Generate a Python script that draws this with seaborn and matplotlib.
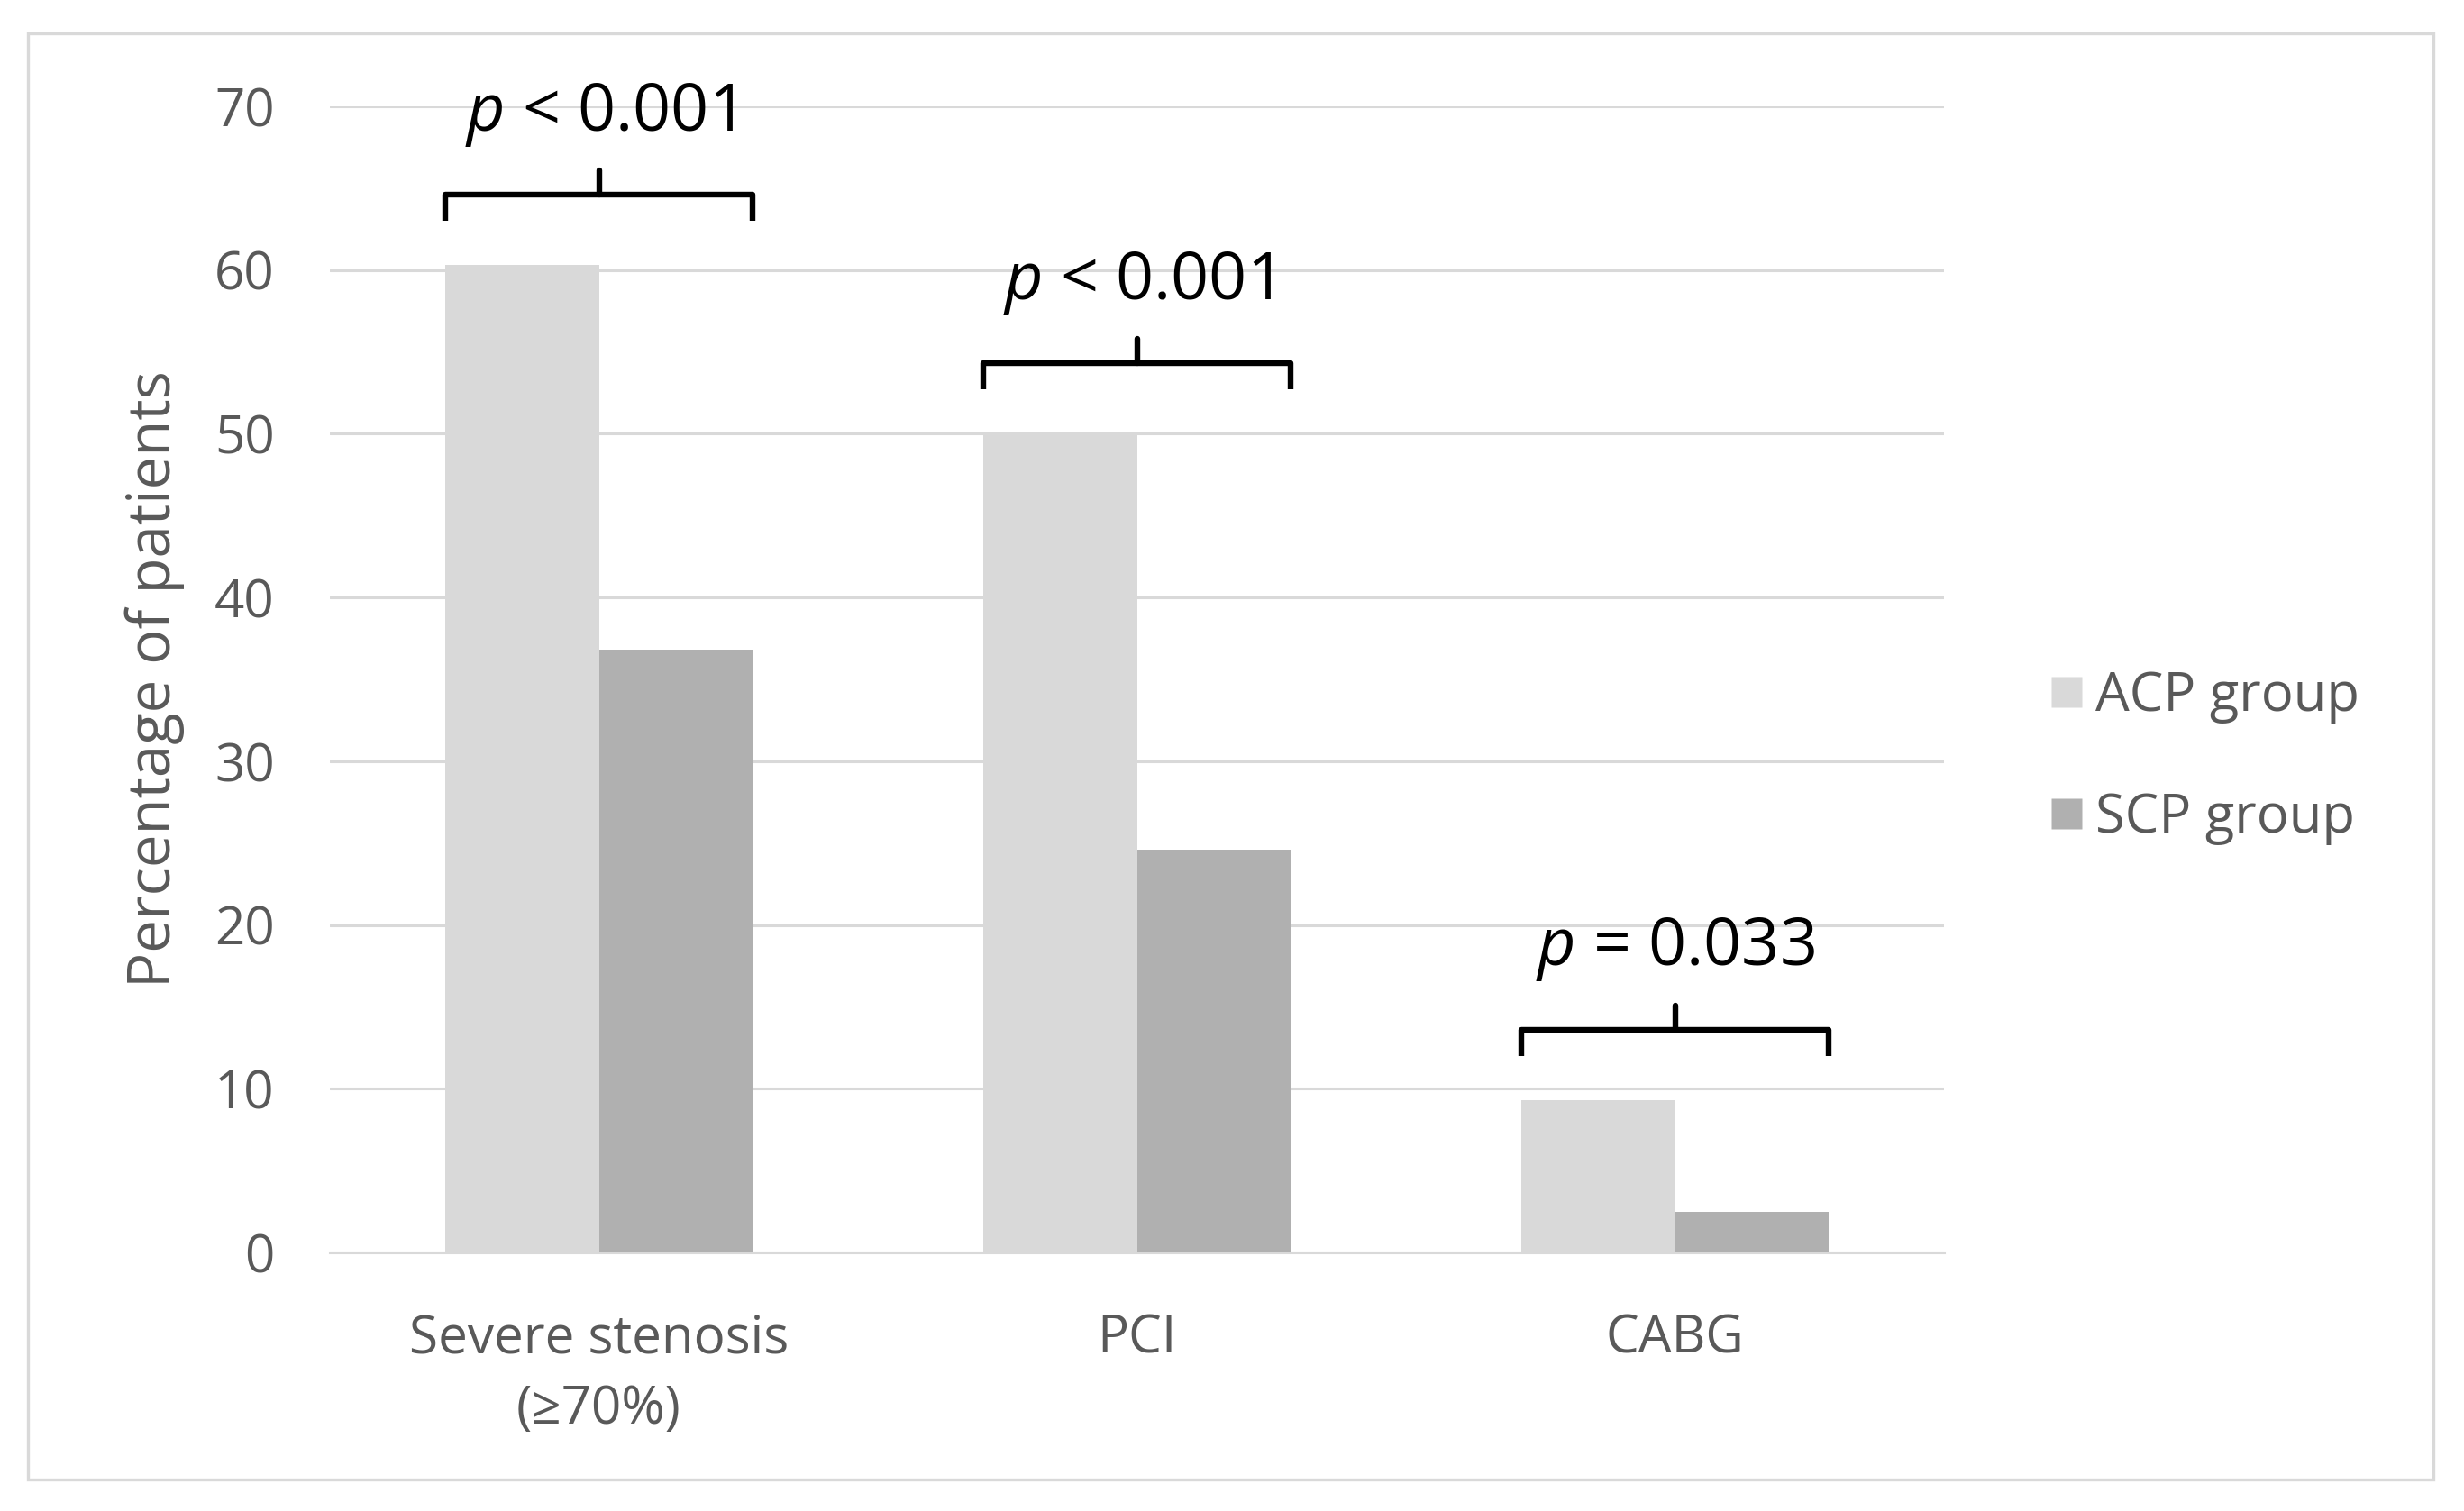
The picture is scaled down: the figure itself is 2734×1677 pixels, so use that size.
import matplotlib
matplotlib.use("Agg")
import matplotlib.pyplot as plt
import seaborn as sns
import pandas as pd
from matplotlib.patches import Rectangle
from matplotlib.lines import Line2D

categories = ["Severe stenosis\n(≥70%)", "PCI", "CABG"]
groups = ["ACP group", "SCP group"]
acp_values = [60.3, 50.0, 9.3]
scp_values = [36.8, 24.6, 2.5]
p_labels = ["$p$ < 0.001", "$p$ < 0.001", "$p$ = 0.033"]
y_ticks = [0, 10, 20, 30, 40, 50, 60, 70]

df = pd.DataFrame({
    "category": categories * 2,
    "group": [groups[0]] * 3 + [groups[1]] * 3,
    "value": acp_values + scp_values,
})

sns.set_theme(style="white")
plt.rcParams["font.family"] = ["Open Sans", "DejaVu Sans"]
plt.rcParams["mathtext.fontset"] = "custom"
plt.rcParams["mathtext.it"] = "Open Sans:italic"
plt.rcParams["mathtext.rm"] = "Open Sans"

W, H = 2734, 1677
dpi = 200
fig = plt.figure(figsize=(W / dpi, H / dpi), dpi=dpi)
ax = fig.add_axes([366 / W, 1 - 1390 / H, (2157 - 366) / W, (1390 - 118) / H])

text_gray = "#595959"
palette = {"ACP group": "#d9d9d9", "SCP group": "#b0b0b0"}

sns.barplot(data=df, x="category", y="value", hue="group", hue_order=groups,
            order=categories, palette=palette, width=0.57, saturation=1,
            edgecolor="none", linewidth=0, ax=ax, legend=False, zorder=3)

ax.set_ylim(0, 70)
ax.set_xlim(-0.5, 2.5)
ax.set_yticks(y_ticks)
ax.yaxis.grid(True, color="#d9d9d9", linewidth=1.1, zorder=0)
ax.set_axisbelow(True)
for s in ["top", "right", "left"]:
    ax.spines[s].set_visible(False)
ax.spines["bottom"].set_color("#d9d9d9")
ax.spines["bottom"].set_linewidth(1.1)
ax.tick_params(axis="both", length=0, colors=text_gray, labelsize=21)
ax.tick_params(axis="y", pad=22)
ax.tick_params(axis="x", pad=24)
for lbl in ax.get_xticklabels():
    lbl.set_linespacing(1.45)
ax.set_xlabel("")
ax.set_ylabel("Percentage of patients", fontsize=23.5, color=text_gray, labelpad=12)

# brackets with p-values
half = 0.57 / 2
for i, (a, b, lab) in enumerate(zip(acp_values, scp_values, p_labels)):
    y = max(a, b) + 4.3
    x0, x1 = i - half, i + half
    ax.plot([x0, x0, x1, x1], [y - 1.6, y, y, y - 1.6], color="black", lw=2.3,
            solid_joinstyle="round", solid_capstyle="butt", zorder=5, clip_on=False)
    ax.plot([i, i], [y, y + 1.5], color="black", lw=2.3, zorder=5, clip_on=False)
    ax.text(i, y + 4.9, lab, ha="center", va="center", fontsize=26.5, color="black", zorder=6)

# legend
handles = [Line2D([], [], marker="s", linestyle="none", markersize=12,
                  markerfacecolor=palette[g], markeredgecolor="none") for g in groups]
fig.legend(handles, groups, loc="center left", bbox_to_anchor=(2215 / W, 0.499),
           frameon=False, fontsize=21.5, labelcolor=text_gray, handletextpad=0.15,
           labelspacing=1.25, handlelength=0.8)

# outer frame
fig.patches.append(Rectangle((31 / W, 1 - 1642 / H), (2700 - 31) / W, (1642 - 37) / H,
                             transform=fig.transFigure, fill=False,
                             edgecolor="#d9d9d9", linewidth=1.2))

fig.savefig("out.png", dpi=dpi, facecolor="white")
